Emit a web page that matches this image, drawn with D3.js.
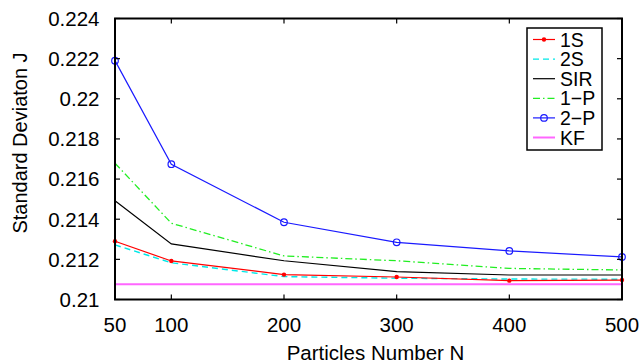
<!DOCTYPE html>
<html><head><meta charset="utf-8">
<script src="https://cdn.jsdelivr.net/npm/d3@7"></script>
<style>
html,body{margin:0;padding:0;background:#fff;}
text{font-family:"Liberation Sans",Arial,sans-serif;fill:#000;}
</style></head>
<body><svg id="c" width="639" height="362"></svg>
<script>
const particles = [50, 100, 200, 300, 400, 500];
const s1S  = [0.2129, 0.21192, 0.21124, 0.21112, 0.21094, 0.21097];
const s2S  = [0.21272, 0.21183, 0.21114, 0.21106, 0.21102, 0.21101];
const sSIR = [0.21492, 0.21277, 0.21193, 0.21139, 0.21122, 0.21122];
const s1P  = [0.21679, 0.2138, 0.21217, 0.21193, 0.21155, 0.21147];
const s2P  = [0.2219, 0.21674, 0.21385, 0.21285, 0.21242, 0.21212];
const sKF  = [0.21076, 0.21076, 0.21076, 0.21076, 0.21076, 0.21076];
const seriesNames = ["1S", "2S", "SIR", "1\u2212P", "2\u2212P", "KF"];
const yTicks = [0.21, 0.212, 0.214, 0.216, 0.218, 0.22, 0.222, 0.224];
const yTickLabels = ["0.21", "0.212", "0.214", "0.216", "0.218", "0.22", "0.222", "0.224"];
const xTicks = [50, 100, 200, 300, 400, 500];

const styles = [
  {color:"#ff0000", dash:null, w:1.2, marker:"dot"},
  {color:"#00e8e8", dash:"6,4", w:1.4, marker:null},
  {color:"#000000", dash:null, w:1.2, marker:null},
  {color:"#22ee22", dash:"7,3,1.5,3", w:1.3, marker:null},
  {color:"#1a1aff", dash:null, w:1.2, marker:"circle"},
  {color:"#ff66ff", dash:null, w:2, marker:null}
];
const allSeries = [s1S, s2S, sSIR, s1P, s2P, sKF];

const svg = d3.select("#c");
const L = 115, R = 622, T = 18.5, B = 299.5;
const x = d3.scaleLinear().domain([50, 500]).range([L, R]);
const y = d3.scaleLinear().domain([0.21, 0.224]).range([B, T]);

const line = d3.line().x((d,i)=>x(particles[i])).y(d=>y(d));
const order = [5, 4, 3, 2, 1, 0];
order.forEach(k=>{
  const st = styles[k];
  svg.append("path").datum(allSeries[k]).attr("d", line)
    .attr("fill","none").attr("stroke", st.color).attr("stroke-width", st.w)
    .attr("stroke-dasharray", st.dash);
  if (st.marker === "dot") {
    svg.selectAll(null).data(allSeries[k]).enter().append("circle")
      .attr("cx",(d,i)=>x(particles[i])).attr("cy",d=>y(d)).attr("r",2.2)
      .attr("fill",st.color);
  } else if (st.marker === "circle") {
    svg.selectAll(null).data(allSeries[k]).enter().append("circle")
      .attr("cx",(d,i)=>x(particles[i])).attr("cy",d=>y(d)).attr("r",3.3)
      .attr("fill","none").attr("stroke",st.color).attr("stroke-width",1.2);
  }
});

const ax = svg.append("g");
ax.append("rect").attr("x",L).attr("y",T).attr("width",R-L).attr("height",B-T)
  .attr("fill","none").attr("stroke","#000").attr("stroke-width",2);
yTicks.forEach((t,i)=>{
  ax.append("line").attr("x1",L).attr("x2",L+5).attr("y1",y(t)).attr("y2",y(t)).attr("stroke","#000").attr("stroke-width",1.2);
  ax.append("line").attr("x1",R).attr("x2",R-5).attr("y1",y(t)).attr("y2",y(t)).attr("stroke","#000").attr("stroke-width",1.2);
  ax.append("text").attr("x",99.5).attr("y",y(t)).attr("dy","0.36em").attr("text-anchor","end")
    .attr("font-size","20.5px").text(yTickLabels[i]);
});
xTicks.forEach(t=>{
  ax.append("line").attr("x1",x(t)).attr("x2",x(t)).attr("y1",B).attr("y2",B-5).attr("stroke","#000").attr("stroke-width",1.2);
  ax.append("line").attr("x1",x(t)).attr("x2",x(t)).attr("y1",T).attr("y2",T+5).attr("stroke","#000").attr("stroke-width",1.2);
  ax.append("text").attr("x",x(t)).attr("y",331.5).attr("text-anchor","middle")
    .attr("font-size","20.5px").text(t);
});
svg.append("text").attr("x",375.5).attr("y",359.5).attr("text-anchor","middle")
  .attr("font-size","20.5px").text("Particles Number N");
svg.append("text").attr("transform","translate(27,143) rotate(-90)").attr("text-anchor","middle")
  .attr("font-size","20px").text("Standard Deviaton J");

const lg = svg.append("g");
lg.append("rect").attr("x",527).attr("y",28).attr("width",75).attr("height",122)
  .attr("fill","#fff").attr("stroke","#000").attr("stroke-width",1.5);
seriesNames.forEach((n,k)=>{
  const st = styles[k];
  const yy = 39.5 + k*19.6;
  lg.append("line").attr("x1",533).attr("x2",555).attr("y1",yy).attr("y2",yy)
    .attr("stroke",st.color).attr("stroke-width",st.w).attr("stroke-dasharray",st.dash);
  if (st.marker==="dot") lg.append("circle").attr("cx",544).attr("cy",yy).attr("r",2.2).attr("fill",st.color);
  if (st.marker==="circle") lg.append("circle").attr("cx",544).attr("cy",yy).attr("r",3.3).attr("fill","none").attr("stroke",st.color).attr("stroke-width",1.2);
  lg.append("text").attr("x",560).attr("y",yy).attr("dy","0.36em").attr("font-size","19.5px").text(n);
});
</script></body></html>
